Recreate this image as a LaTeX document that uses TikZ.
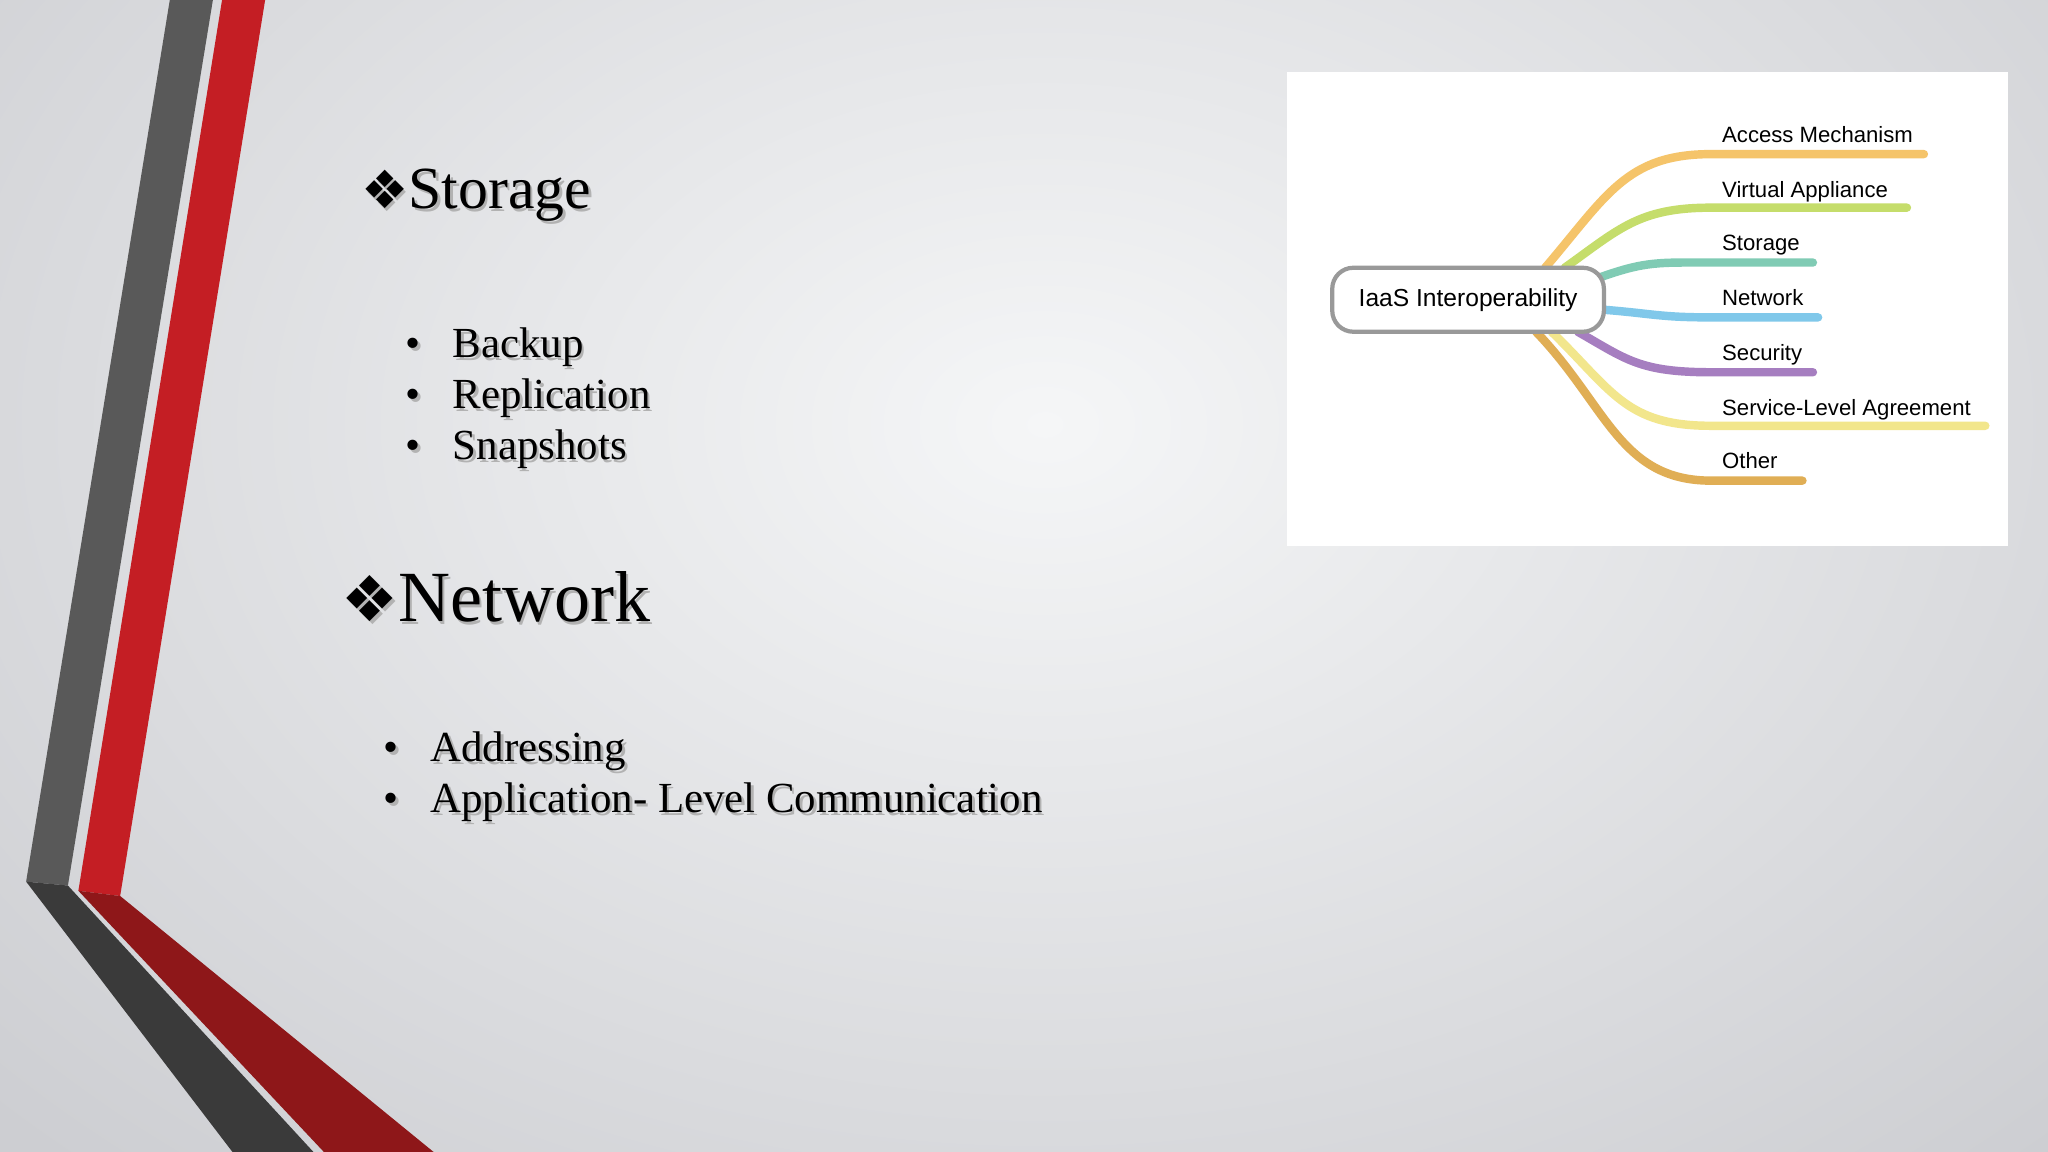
\documentclass[tikz,border=0pt]{standalone}
\usepackage{fontspec}
\setmainfont{Liberation Serif}
\newfontfamily\symfont{DejaVu Sans}
\newfontfamily\mapfont{Liberation Sans}
\definecolor{bgin}{HTML}{F5F6F7}
\definecolor{bgout}{HTML}{CDCED2}
\definecolor{greyband}{HTML}{595959}
\definecolor{greydark}{HTML}{3A3A3A}
\definecolor{redband}{HTML}{C41E24}
\definecolor{reddark}{HTML}{8E1719}
\definecolor{cA}{HTML}{F5C46A}
\definecolor{cB}{HTML}{C5DD6B}
\definecolor{cC}{HTML}{80CBB4}
\definecolor{cD}{HTML}{80C8EA}
\definecolor{cE}{HTML}{A67EC0}
\definecolor{cF}{HTML}{F2E68C}
\definecolor{cG}{HTML}{E0AE55}
\tikzset{
  head/.style={anchor=base west,inner sep=0pt,font=\fontsize{#1}{#1}\selectfont},
  bul/.style={anchor=base west,inner sep=0pt,font=\fontsize{12.2pt}{15pt}\selectfont},
  lbl/.style={anchor=base west,inner sep=0pt,font=\mapfont\fontsize{6.3pt}{8pt}\selectfont},
  br/.style={line width=2.4pt,line cap=round},
}
\begin{document}
\begin{tikzpicture}[x=0.013061cm,y=-0.013061cm]
\useasboundingbox (0,0) rectangle (1568,882);
\shade[inner color=bgin,outer color=bgout] (-300,-450) rectangle (1900,1100);
% bands
\fill[greyband] (130,0) -- (163,0) -- (52,678) -- (20,675) -- cycle;
\fill[greydark] (20,675) -- (52,678) -- (240,882) -- (178,882) -- cycle;
\fill[redband] (170,0) -- (203,0) -- (92,686) -- (60,682) -- cycle;
\fill[reddark] (60,682) -- (92,686) -- (332,882) -- (248,882) -- cycle;
% text with shadows
\foreach \c/\dx in {gray!60/2,black/0}{
\begin{scope}[shift={(\dx,\dx)}]
\node[head=17pt,text=\c] (h1) at (276,160) {{\symfont\fontsize{15pt}{15pt}\selectfont ❖}Storage};
\node[bul,text=\c] (b1) at (310,274) {•\hspace{0.75em}Backup};
\node[bul,text=\c] (b2) at (310,313) {•\hspace{0.75em}Replication};
\node[bul,text=\c] (b3) at (310,352) {•\hspace{0.75em}Snapshots};
\node[head=20.5pt,text=\c] (h2) at (261,476) {{\symfont\fontsize{18pt}{18pt}\selectfont ❖}Network};
\node[bul,text=\c] (b4) at (293,583) {•\hspace{0.75em}Addressing};
\node[bul,text=\c] (b5) at (293,622) {•\hspace{0.75em}Application- Level Communication};
\end{scope}}
% mind map
\fill[white] (985,55) rectangle (1537,418);
\foreach \n/\y in {a/118,b/159,c/201,d/243,e/285,f/326,g/368}{\coordinate (j\n) at (1310,\y);}
\coordinate (ea) at (1473,118); \coordinate (eb) at (1460,159);
\coordinate (ec) at (1388,201); \coordinate (ed) at (1392,243);
\coordinate (ee) at (1388,285); \coordinate (ef) at (1520,326);
\coordinate (eg) at (1380,368);
\coordinate (sa) at (1183,205); \coordinate (sb) at (1198,205);
\coordinate (sc) at (1226,212); \coordinate (sd) at (1226,237);
\coordinate (se) at (1208,254); \coordinate (sf) at (1188,254);
\coordinate (sg) at (1176,254);
\draw[br,cA] (sa) .. controls (1230,150) and (1245,118) .. (ja) -- (ea);
\draw[br,cB] (sb) .. controls (1240,175) and (1255,159) .. (jb) -- (eb);
\draw[br,cC] (sc) .. controls (1260,200) and (1270,201) .. (jc) -- (ec);
\draw[br,cD] (sd) .. controls (1265,240) and (1270,243) .. (jd) -- (ed);
\draw[br,cE] (se) .. controls (1245,275) and (1255,285) .. (je) -- (ee);
\draw[br,cF] (sf) .. controls (1235,300) and (1245,326) .. (jf) -- (ef);
\draw[br,cG] (sg) .. controls (1230,310) and (1240,368) .. (jg) -- (eg);
\draw[gray!80,line width=1.2pt,rounded corners=6pt,fill=white] (1020,205) rectangle (1228,254);
\node[font=\mapfont\fontsize{7pt}{9pt}\selectfont] (rt) at (1124,230) {IaaS Interoperability};
\node[lbl] (la) at (1318,109) {Access Mechanism};
\node[lbl] (lb) at (1318,151) {Virtual Appliance};
\node[lbl] (lc) at (1318,192) {Storage};
\node[lbl] (ld) at (1318,234) {Network};
\node[lbl] (le) at (1318,276) {Security};
\node[lbl] (lf) at (1318,318) {Service-Level Agreement};
\node[lbl] (lg) at (1318,359) {Other};
\end{tikzpicture}
\end{document}
